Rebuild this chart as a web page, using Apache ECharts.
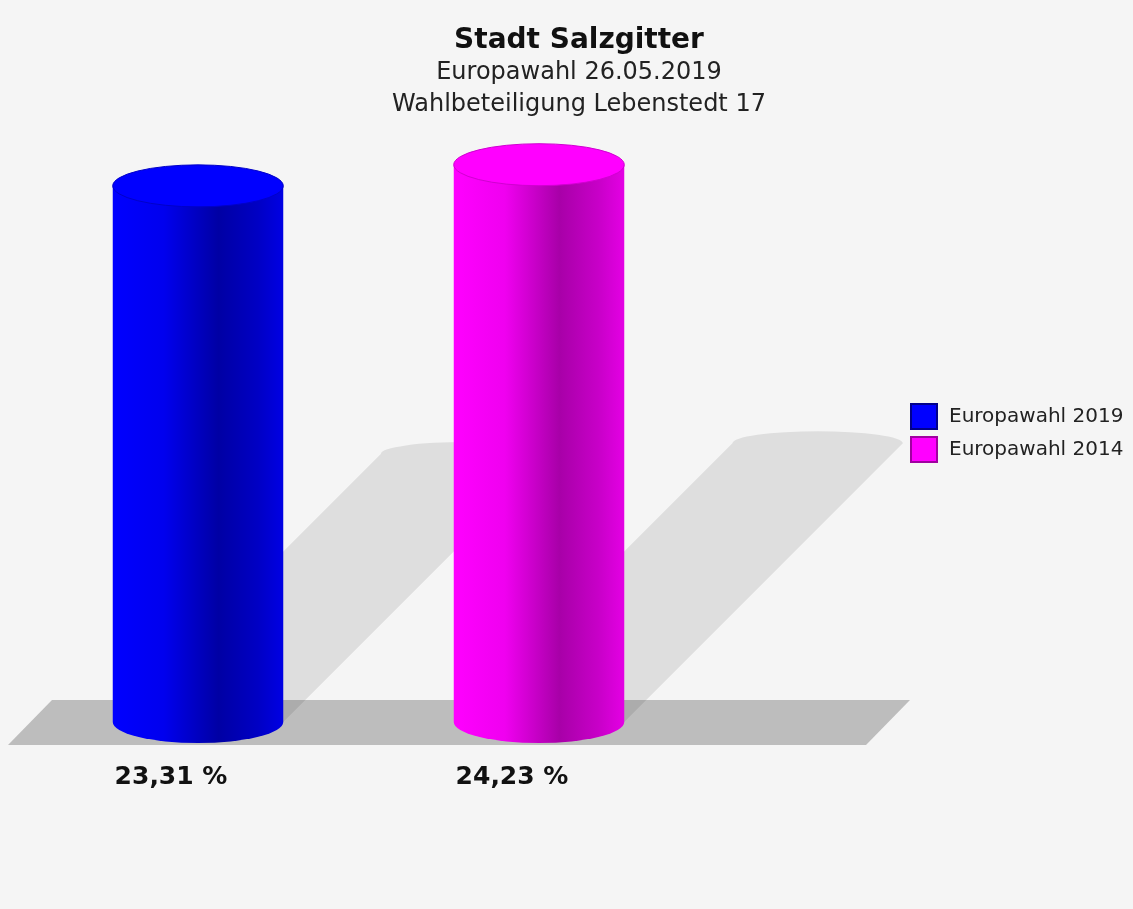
<!DOCTYPE html>
<html>
<head>
<meta charset="utf-8">
<script src="https://cdn.jsdelivr.net/npm/echarts@6/dist/echarts.min.js"></script>
<style>
html,body{margin:0;padding:0;background:#f5f5f5;}
#main{width:1133px;height:909px;}
</style>
</head>
<body>
<div id="main"></div>
<script>
// ---- data ----
const titleText = 'Stadt Salzgitter';
const subtitleLines = ['Europawahl 26.05.2019', 'Wahlbeteiligung Lebenstedt 17'];
const categories = ['Europawahl 2019', 'Europawahl 2014'];
const seriesNames = ['Europawahl 2019', 'Europawahl 2014'];
const values = [23.31, 24.23];
const baseColors = ['#0000ff', '#ff00ff'];

function fmt(v) { return v.toFixed(2).replace('.', ',') + ' %'; }

const gradStops = [
  [[0, '#0000ff'], [0.3, '#0000ee'], [0.62, '#0000a4'], [0.85, '#0000c4'], [1, '#0000e4']],
  [[0, '#ff00ff'], [0.3, '#f000f0'], [0.62, '#a800a8'], [0.85, '#c800c8'], [1, '#e400e4']]
];
const topEdge = ['#0000c8', '#d000d0'];
const legendBorder = ['#00008b', '#a000a0'];

function cylinderRender(si) {
  return function (params, api) {
    const idx = api.value(0);
    const val = api.value(1);
    const base = api.coord([idx, 0]);
    const top = api.coord([idx, val]);
    const cx = base[0], y0 = base[1], yt = top[1];
    const w = api.size([1, 0])[0] * 0.5;
    const rx = w / 2, ry = 21;
    const xl = cx - rx, xr = cx + rx;
    const s = (y0 - yt) / 2;
    const shadowPath = 'M' + xl + ',' + y0 +
      ' L' + (xl + s) + ',' + (y0 - s) +
      ' A' + rx + ',' + 12 + ' 0 0 1 ' + (xr + s) + ',' + (y0 - s) +
      ' L' + xr + ',' + y0 + ' Z';
    const bodyPath = 'M' + xl + ',' + yt + ' L' + xl + ',' + y0 +
      ' A' + rx + ',' + ry + ' 0 0 0 ' + xr + ',' + y0 +
      ' L' + xr + ',' + yt + ' Z';
    const topPath = 'M' + xl + ',' + yt +
      ' A' + rx + ',' + ry + ' 0 1 1 ' + xr + ',' + yt +
      ' A' + rx + ',' + ry + ' 0 1 1 ' + xl + ',' + yt + ' Z';
    return {
      type: 'group',
      children: [
        { type: 'path', z2: 1, shape: { pathData: shadowPath },
          style: { fill: 'rgba(0,0,0,0.09)' } },
        { type: 'path', z2: 10, shape: { pathData: bodyPath },
          style: { fill: { type: 'linear', x: 0, y: 0, x2: 1, y2: 0,
            colorStops: gradStops[si].map(function (c) { return { offset: c[0], color: c[1] }; }) } } },
        { type: 'path', z2: 11, shape: { pathData: topPath },
          style: { fill: baseColors[si], stroke: topEdge[si], lineWidth: 1 } },
        { type: 'text', z2: 12,
          style: { text: fmt(val), x: cx - 27, y: 777, align: 'center', verticalAlign: 'middle',
            font: 'bold 25px "DejaVu Sans"', fill: '#111' } }
      ]
    };
  };
}

function floorRender(params, api) {
  const a = api.coord([0, 0]);
  const b = api.coord([1, 0]);
  const y0 = a[1];
  const yT = y0 - 22, yB = y0 + 23;
  const xTL = a[0] - 146, xTR = b[0] + 371;
  const skew = 44;
  return {
    type: 'polygon', z2: 0,
    shape: { points: [[xTL, yT], [xTR, yT], [xTR - skew, yB], [xTL - skew, yB]] },
    style: { fill: '#bdbdbd' }
  };
}

const chart = echarts.init(document.getElementById('main'), null, { renderer: 'canvas' });
const series = [{
  name: 'floor', type: 'custom', silent: true, renderItem: floorRender,
  data: [[0, 0]], encode: { x: 0, y: 1 }, z: 1
}];
values.forEach(function (v, i) {
  series.push({
    name: seriesNames[i], type: 'custom', renderItem: cylinderRender(i),
    data: [[i, v]], encode: { x: 0, y: 1 }, z: 2,
    itemStyle: { color: baseColors[i], borderColor: legendBorder[i], borderWidth: 1 }
  });
});

chart.setOption({
  backgroundColor: '#f5f5f5',
  animation: false,
  title: {
    text: titleText,
    subtext: subtitleLines.join('\n'),
    left: 574, top: 21, textAlign: 'center', itemGap: 1,
    textStyle: { fontFamily: 'DejaVu Sans', fontWeight: 'bold', fontSize: 28, color: '#111', lineHeight: 30 },
    subtextStyle: { fontFamily: 'DejaVu Sans', fontSize: 24, color: '#222', lineHeight: 32 }
  },
  legend: {
    data: seriesNames, orient: 'vertical', left: 905, top: 398,
    itemWidth: 26, itemHeight: 25, itemGap: 6, icon: 'rect',
    textStyle: { fontFamily: 'DejaVu Sans', fontSize: 20, color: '#222', padding: [0, 0, 0, 7] }
  },
  grid: { left: 27.5, right: 423.5, top: 101, bottom: 187 },
  xAxis: { type: 'category', data: categories, show: false },
  yAxis: { type: 'value', min: 0, max: 27, show: false },
  series: series
});
</script>
</body>
</html>
